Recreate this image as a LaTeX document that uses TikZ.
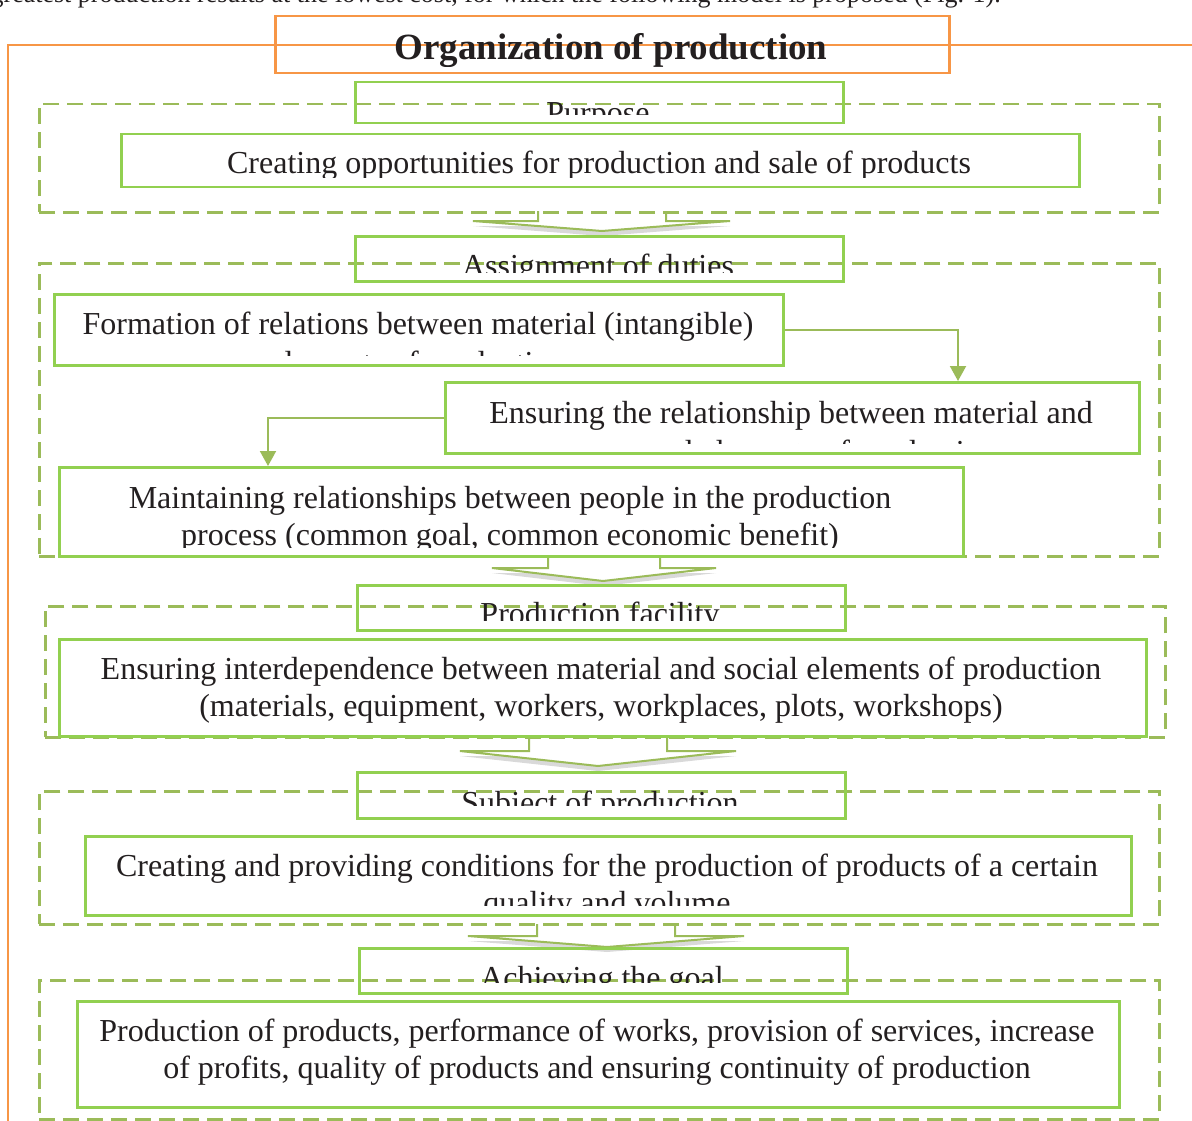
\documentclass[tikz,border=0pt]{standalone}
\usepackage{fontspec}
\setmainfont{Liberation Serif}
\usetikzlibrary{arrows.meta,shadows,calc}
\definecolor{gsolid}{RGB}{146,208,80}
\definecolor{gdash}{RGB}{155,187,89}
\definecolor{orng}{RGB}{247,150,70}
\definecolor{txt}{RGB}{35,31,32}
\newcommand\mkbox[6]{\node[#1, minimum width={#5-#3}, minimum height={#6-#4}, anchor=north west] (#2) at (#3,#4) {};}
\begin{document}
\begin{tikzpicture}[x=1pt,y=-1pt,
  solidbox/.style={draw=gsolid, line width=2.5pt, inner sep=0pt, fill=none},
  dashbox/.style={draw=gdash, line width=2.5pt, inner sep=0pt, dash pattern=on 16pt off 8pt},
  titlebox/.style={draw=orng, line width=2.5pt, inner sep=0pt},
  orangeline/.style={draw=orng, line width=2.5pt},
  bodytext/.style={text=txt, inner sep=0pt, anchor=base, font=\fontsize{32}{37}\selectfont},
  titletext/.style={text=txt, inner sep=0pt, anchor=base, font=\fontsize{37}{40}\selectfont\bfseries},
  pagetext/.style={text=txt, inner sep=0pt, anchor=base east, font=\fontsize{26}{30}\selectfont},
  conn/.style={draw=gdash, line width=2pt, -{Triangle[width=16pt,length=15pt]}},
  arrowfill/.style={fill=white, drop shadow={shadow xshift=0pt, shadow yshift=-5pt, opacity=0.25, fill=black!60}},
  arrowline/.style={draw=gdash, line width=2pt, line join=miter}
]
\useasboundingbox (0,0) rectangle (1192,1121);

% text of page above the figure (clipped)
\begin{scope}
\clip (0,0) rectangle (1192,10);
\node[pagetext] (pagetxt) at (1001,3) {greatest production results at the lowest cost, for which the following model is proposed (Fig. 1).};
\end{scope}

% orange frame
\coordinate (oTL) at (8,45);
\coordinate (oR) at (1192,45);
\coordinate (oB) at (8,1121);
\draw[orangeline] (oB) -- (oTL) -- (oR);
\mkbox{titlebox}{title}{274}{15}{948}{72}

% block arrows (behind)
\path[arrowfill] (538,211) -- (538,221) -- (473,221) -- (602,231) -- (730,221) -- (666,221) -- (666,211) -- cycle;
\draw[arrowline] (538,211) -- (538,221) -- (473,221) -- (602,231) -- (730,221) -- (666,221) -- (666,211);
\path[arrowfill] (548,555) -- (548,568) -- (492,568) -- (603,581) -- (716,568) -- (660,568) -- (660,555) -- cycle;
\draw[arrowline] (548,555) -- (548,568) -- (492,568) -- (603,581) -- (716,568) -- (660,568) -- (660,555);
\path[arrowfill] (529,735) -- (529,751) -- (460,751) -- (598,766) -- (736,751) -- (667,751) -- (667,735) -- cycle;
\draw[arrowline] (529,735) -- (529,751) -- (460,751) -- (598,766) -- (736,751) -- (667,751) -- (667,735);
\path[arrowfill] (537,924) -- (537,936) -- (468,936) -- (607,947) -- (744,936) -- (675,936) -- (675,924) -- cycle;
\draw[arrowline] (537,924) -- (537,936) -- (468,936) -- (607,947) -- (744,936) -- (675,936) -- (675,924);

% dashed sections
\mkbox{dashbox}{sec1}{38}{103}{1158}{211}
\mkbox{dashbox}{sec2}{38}{262}{1158}{555}
\mkbox{dashbox}{sec3}{44}{605}{1164}{736}
\mkbox{dashbox}{sec4}{38}{790}{1158}{923}
\mkbox{dashbox}{sec5}{38}{979}{1158}{1118}

% solid boxes
\mkbox{solidbox}{purpose}{354}{81}{842}{122}
\mkbox{solidbox}{create}{120}{133}{1078}{186}
\mkbox{solidbox}{assign}{354}{235}{842}{280}
\mkbox{solidbox}{form}{53}{293}{782}{364}
\mkbox{solidbox}{ens}{444}{381}{1138}{452}
\mkbox{solidbox}{maint}{58}{466}{962}{555}
\mkbox{solidbox}{facil}{356}{584}{844}{629}
\mkbox{solidbox}{interd}{58}{638}{1145}{735}
\mkbox{solidbox}{subj}{356}{771}{844}{817}
\mkbox{solidbox}{cond}{84}{835}{1130}{914}
\mkbox{solidbox}{achv}{358}{947}{846}{992}
\mkbox{solidbox}{prod}{76}{1000}{1118}{1106}

% connectors
\coordinate (c1) at (958,0);
\coordinate (c2) at (268,0);
\draw[conn] (form.east) -| (ens.north -| c1);
\draw[conn] (ens.west) -| (maint.north -| c2);

% texts
\begin{scope}\clip (276,17) rectangle (946,67);
\node[titletext] (t-title) at (611,60) {Organization of production};\end{scope}

\begin{scope}\clip (356,83) rectangle (840,115);
\node[bodytext] (t-purpose) at (598,124) {Purpose};\end{scope}

\begin{scope}\clip (122,135) rectangle (1076,178);
\node[bodytext] (t-create) at (599,174) {Creating opportunities for production and sale of products};\end{scope}

\begin{scope}\clip (356,237) rectangle (840,272);
\node[bodytext] (t-assign) at (598,276) {Assignment of duties};\end{scope}

\begin{scope}\clip (55,295) rectangle (780,355);
\node[bodytext] (t-form1) at (418,334) {Formation of relations between material (intangible)};
\node[bodytext] (t-form2) at (418,373) {elements of production};\end{scope}

\begin{scope}\clip (446,383) rectangle (1136,443);
\node[bodytext] (t-ens1) at (791,423) {Ensuring the relationship between material and};
\node[bodytext] (t-ens2) at (791,462) {personal elements of production};\end{scope}

\begin{scope}\clip (60,468) rectangle (960,547);
\node[bodytext] (t-maint1) at (510,508) {Maintaining relationships between people in the production};
\node[bodytext] (t-maint2) at (510,545) {process (common goal, common economic benefit)};\end{scope}

\begin{scope}\clip (358,586) rectangle (842,620);
\node[bodytext] (t-facil) at (600,624) {Production facility};\end{scope}

\node[bodytext] (t-interd1) at (601,679) {Ensuring interdependence between material and social elements of production};
\node[bodytext] (t-interd2) at (601,716) {(materials, equipment, workers, workplaces, plots, workshops)};

\begin{scope}\clip (358,773) rectangle (842,805);
\node[bodytext] (t-subj) at (600,813) {Subject of production};\end{scope}

\begin{scope}\clip (86,837) rectangle (1128,905);
\node[bodytext] (t-cond1) at (607,876) {Creating and providing conditions for the production of products of a certain};
\node[bodytext] (t-cond2) at (607,913) {quality and volume};\end{scope}

\begin{scope}\clip (360,949) rectangle (844,982);
\node[bodytext] (t-achv) at (602,988) {Achieving the goal};\end{scope}

\node[bodytext] (t-prod1) at (597,1041) {Production of products, performance of works, provision of services, increase};
\node[bodytext] (t-prod2) at (597,1078) {of profits, quality of products and ensuring continuity of production};
\end{tikzpicture}
\end{document}
